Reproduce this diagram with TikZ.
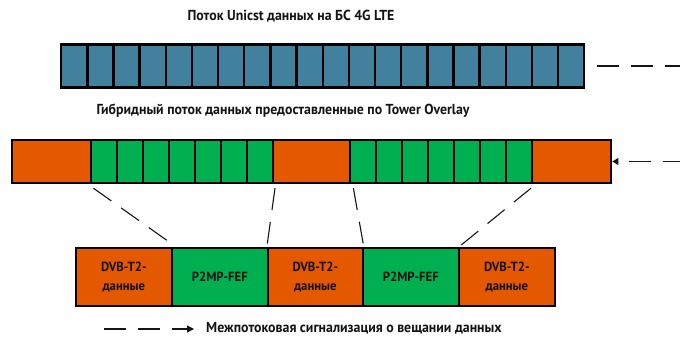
\documentclass[tikz,border=0pt]{standalone}
\usepackage{fontspec}
\setmainfont{PT Sans}[FakeStretch=0.955]
\usetikzlibrary{arrows.meta}
\definecolor{lteblue}{RGB}{66,129,158}
\definecolor{dvborange}{RGB}{228,88,0}
\definecolor{fefgreen}{RGB}{0,176,80}
\definecolor{ink}{RGB}{20,20,20}
\tikzset{
  cell/.style={draw=black, line width=2.4pt, minimum height=43pt, inner sep=0pt, anchor=west},
  ucell/.style={cell, fill=lteblue, minimum width=26.15pt},
  gcell/.style={cell, fill=fefgreen, minimum width=26pt},
  ocell/.style={cell, fill=dvborange},
  frame/.style={draw=black, line width=1.6pt, minimum height=58pt, minimum width=96pt,
    inner sep=0pt, anchor=north west, font=\bfseries\fontsize{13.3}{18.5}\selectfont,
    align=center, text=ink},
  title/.style={font=\bfseries\fontsize{14.5}{16}\selectfont, text=ink, inner sep=0pt},
  link/.style={draw=ink, line width=1.1pt, dash pattern=on 22pt off 12pt},
  signal/.style={draw=ink, line width=1.3pt, dash pattern=on 22pt off 12pt},
}
\begin{document}
\begin{tikzpicture}[x=1pt, y=-1pt]
  \useasboundingbox (0,0) rectangle (680,340);

  % unicast LTE stream
  \node[title] (t1) at (291,16) {Поток Unicst данных на БС 4G LTE};
  \foreach \i in {1,...,20}
    \node[ucell] (u\i) at ({60+26.15*(\i-1)},66) {};

  % hybrid Tower Overlay stream
  \node[title] (t2) at (283,111) {Гибридный поток данных предоставленные по Tower Overlay};
  \node[ocell, minimum width=79pt] (o1) at (11,161.5) {};
  \foreach \i in {1,...,7}
    \node[gcell] (ga\i) at ({90+26*(\i-1)},161.5) {};
  \node[ocell, minimum width=77pt] (o2) at (272,161.5) {};
  \foreach \i in {1,...,7}
    \node[gcell] (gb\i) at ({349+26*(\i-1)},161.5) {};
  \node[ocell, minimum width=79pt] (o3) at (531,161.5) {};

  % frame structure
  \node[frame, fill=dvborange] (d1) at (75,247) {DVB-T2-\\данные};
  \node[frame, fill=fefgreen, minimum width=96pt] (p1) at (171,247) {P2MP-FEF};
  \node[frame, fill=dvborange, minimum width=95pt] (d2) at (267,247) {DVB-T2-\\данные};
  \node[frame, fill=fefgreen, minimum width=96pt] (p2) at (362,247) {P2MP-FEF};
  \node[frame, fill=dvborange] (d3) at (458,247) {DVB-T2-\\данные};

  % mapping of the hybrid stream onto frames
  \draw[link] (o1.south east) ++(1,4) -- ([xshift=-2pt,yshift=4pt]d1.north east);
  \draw[link] ([yshift=-4pt]o2.south west) ++(3,0) -- ([yshift=1pt]d2.north west);
  \draw[link] ([yshift=-4pt]o2.south east) ++(2,0) -- ([yshift=1pt]d2.north east);
  \draw[link] ([yshift=-4pt]o3.south west) -- ([xshift=2pt,yshift=1pt]d3.north west);

  % inter-stream signalling
  \coordinate (topR) at (700,66);
  \coordinate (botR) at (700,161.5);
  \draw[signal, shorten <=12pt] (u20.east) -- (topR);
  \draw[signal, dash phase=23pt, {Triangle[length=6pt,width=7pt]}-] (o3.east) -- (botR);

  % legend
  \node[title, anchor=west] (leg) at (206,328) {Межпотоковая сигнализация о вещании данных};
  \coordinate (legS) at (104,329);
  \draw[signal, -{Triangle[length=7pt,width=7pt]}, shorten >=12pt] (legS) -- (leg.west |- legS);
\end{tikzpicture}
\end{document}
